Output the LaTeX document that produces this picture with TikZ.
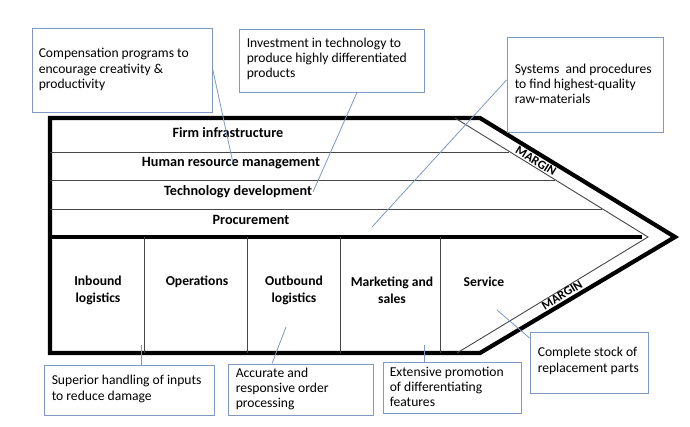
\documentclass[tikz,border=0pt]{standalone}
\usepackage{fontspec}
\setmainfont{Carlito}
\definecolor{calloutc}{RGB}{127,152,196}
\definecolor{rulec}{RGB}{70,70,70}
\begin{document}
\begin{tikzpicture}[x=1pt,y=-1pt,
  calloutbox/.style={draw=calloutc, line width=0.9pt, rectangle, inner sep=0pt, anchor=center},
  callouttext/.style={inner sep=0pt, align=left, anchor=west, font=\fontsize{13.6}{15.3}\selectfont},
  lead/.style={draw=calloutc, line width=0.8pt},
  frameline/.style={line width=4.2pt, line join=miter},
  rowline/.style={draw=rulec, line width=0.9pt},
  suplabel/.style={font=\bfseries\fontsize{14.2}{16}\selectfont, inner sep=0pt},
  primlabel/.style={font=\bfseries\fontsize{13.6}{17}\selectfont, align=center, inner sep=0pt},
  marglabel/.style={font=\bfseries\fontsize{12.5}{14}\selectfont, inner sep=0pt}
]
\useasboundingbox (0,0) rectangle (690,426);
\fill[white] (0,0) rectangle (690,426);

% outline
\coordinate (tl) at (50,118);
\coordinate (tc) at (480,118);
\coordinate (tip) at (675,237);
\coordinate (bc) at (480,353);
\coordinate (bl) at (50,353);
\draw[frameline] (tl) -- (tc) -- (tip) -- (bc) -- (bl) -- cycle;
\coordinate (ml) at (50,237);
\coordinate (mr) at (642,237);
\draw[frameline] (ml) -- (mr);

% inner margin line
\coordinate (it) at (455,118);
\coordinate (itip) at (648,237);
\coordinate (ib) at (457,353);
\draw[rowline] (it) -- (itip) -- (ib);

% row separators
\coordinate (r1l) at (50,152); \coordinate (r1r) at (509,152);
\coordinate (r2l) at (50,180); \coordinate (r2r) at (555,180);
\coordinate (r3l) at (50,209); \coordinate (r3r) at (602,209);
\draw[rowline] (r1l) -- (r1r);
\draw[rowline] (r2l) -- (r2r);
\draw[rowline] (r3l) -- (r3r);

% column separators
\foreach \x/\n in {144/a,247/b,340/c,440/d}{
  \coordinate (c\n t) at (\x,237);
  \coordinate (c\n b) at (\x,353);
  \draw[rowline] (c\n t) -- (c\n b);
}

% support activities
\node[suplabel] (firm) at (228,133) {Firm infrastructure};
\node[suplabel] (hrm) at (231,163) {Human resource management};
\node[suplabel] (tech) at (238,192) {Technology development};
\node[suplabel] (proc) at (251,220) {Procurement};

% primary activities
\node[primlabel] (inb) at (98,290.5) {Inbound\\logistics};
\node[primlabel] (ops) at (197,282) {Operations};
\node[primlabel] (outb) at (294,290.5) {Outbound\\logistics};
\node[primlabel] (mkt) at (392,290.5) {Marketing and\\sales};
\node[primlabel] (serv) at (484,282) {Service};

% margin labels
\node[marglabel, rotate=-31.5] (m1) at (536,161) {MARGIN};
\node[marglabel, rotate=31.5] (m2) at (562,295) {MARGIN};

% callout boxes
\node[calloutbox, minimum width=180pt, minimum height=84pt] (b1) at (122,70) {};
\node[calloutbox, minimum width=185pt, minimum height=63pt] (b2) at (331.5,60.5) {};
\node[calloutbox, minimum width=156pt, minimum height=95pt] (b3) at (585,84.5) {};
\node[calloutbox, minimum width=170pt, minimum height=50pt] (b4) at (129,390) {};
\node[calloutbox, minimum width=145pt, minimum height=51pt] (b5) at (300.5,389.5) {};
\node[calloutbox, minimum width=138pt, minimum height=51pt] (b6) at (452,387.5) {};
\node[calloutbox, minimum width=118pt, minimum height=61pt] (b7) at (589,362.5) {};

% callout texts
\node[callouttext] (t1) at ([xshift=7pt,yshift=0.5pt]b1.west) {Compensation programs to\\encourage creativity \&\\productivity};
\node[callouttext] (t2) at ([xshift=8pt,yshift=1.5pt]b2.west) {Investment in technology to\\produce highly differentiated\\products};
\node[callouttext] (t3) at ([xshift=8pt,yshift=0.5pt]b3.west) {Systems\ \ and procedures\\to find highest-quality\\raw-materials};
\node[callouttext] (t4) at ([xshift=8pt,yshift=1pt]b4.west) {Superior handling of inputs\\to reduce damage};
\node[callouttext] (t5) at ([xshift=8pt,yshift=0.5pt]b5.west) {Accurate and\\responsive order\\processing};
\node[callouttext] (t6) at ([xshift=7pt,yshift=0.5pt]b6.west) {Extensive promotion\\of differentiating\\features};
\node[callouttext] (t7) at ([xshift=8pt,yshift=1.5pt]b7.west) {Complete stock of\\replacement parts};

% leader lines
\coordinate (e1) at (233,163);
\coordinate (e2) at (313,192);
\coordinate (e3) at (372,227);
\coordinate (e4) at (141,345);
\coordinate (e5) at (286,327);
\coordinate (e6) at (424,345);
\coordinate (e7) at (497,310);
\draw[lead] ([yshift=2pt]b1.east) -- (e1);
\draw[lead] ([xshift=25.5pt]b2.south) -- (e2);
\draw[lead] ([yshift=4.5pt]b3.west) -- (e3);
\draw[lead] ([xshift=12pt]b4.north) -- (e4);
\draw[lead] ([xshift=-28.5pt]b5.north) -- (e5);
\draw[lead] ([xshift=-28pt]b6.north) -- (e6);
\draw[lead] ([yshift=24.5pt]b7.west) -- (e7);
\end{tikzpicture}
\end{document}
